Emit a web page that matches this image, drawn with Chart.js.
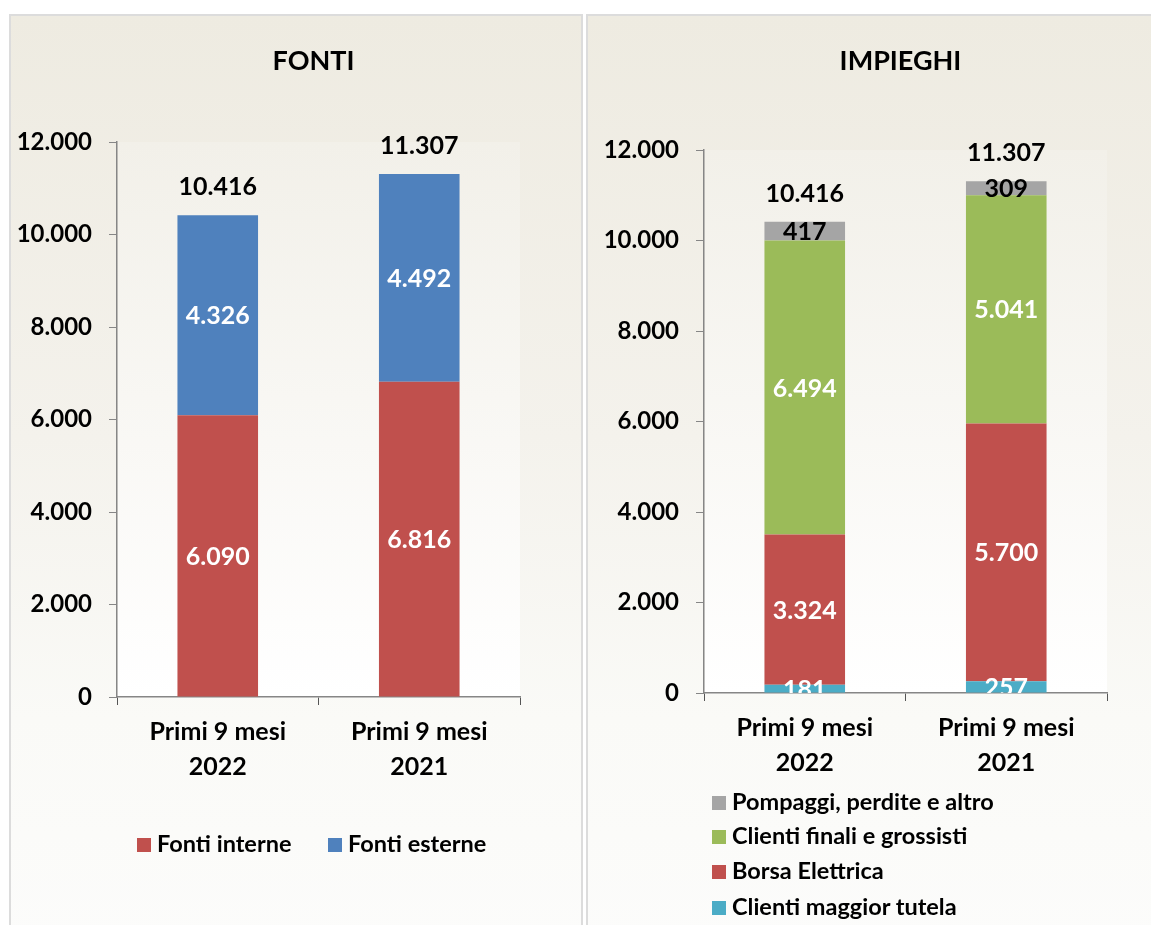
<!DOCTYPE html>
<html>
<head>
<meta charset="utf-8">
<script src="https://cdn.jsdelivr.net/npm/chart.js@4.4.0/dist/chart.umd.min.js"></script>
<style>
  body { margin: 0; background: #fff; font-family: Lato, sans-serif; }
  .panel {
    position: absolute; top: 14px; height: 940px; box-sizing: border-box;
    border: 2px solid #dcdcdc;
    background: linear-gradient(#eeebe1 0%, #f4f2ec 45%, #fafaf7 75%, #fcfcfb 100%);
  }
  .panel canvas { position: absolute; left: 0; top: 0; }
  .legend { position: absolute; font: bold 23.5px Lato, sans-serif; color: #000; }
  .legend .item { position: absolute; white-space: nowrap; line-height: 26px; }
  .legend .box { display: inline-block; width: 14px; height: 14px; margin-right: 6px; vertical-align: 0px; }
</style>
</head>
<body>
<div class="panel" id="pLeft" style="left:9px; width:574px;">
  <canvas id="fonti" width="568" height="905"></canvas>
  <div class="legend" id="legFonti"></div>
</div>
<div class="panel" id="pRight" style="left:586px; width:600px;">
  <canvas id="impieghi" width="563" height="905"></canvas>
  <div class="legend" id="legImpieghi"></div>
</div>
<script>
(function() {
    /* data */
    var categories = [['Primi 9 mesi', '2022'], ['Primi 9 mesi', '2021']];
    var fontiInterne = [6090, 6816];
    var fontiEsterne = [4326, 4492];
    var fontiTotali = [10416, 11307];
    var maggiorTutela = [181, 257];
    var borsaElettrica = [3324, 5700];
    var clientiFinali = [6494, 5041];
    var pompaggi = [417, 309];
    var impieghiTotali = [10416, 11307];
    var yMax = 12000, yStep = 2000;

    var FONT = 'Lato';

    function fmt(v) {
        return String(v).replace(/\B(?=(\d{3})+(?!\d))/g, '.');
    }

    //______plot area background + title centred on the plot
    var plotBg = {
        id: 'plotBg',
        beforeDatasetsDraw: function(chart) {
            var a = chart.chartArea, ctx = chart.ctx;
            var g = ctx.createLinearGradient(0, a.top, 0, a.bottom);
            g.addColorStop(0, '#f2f0e9');
            g.addColorStop(1, '#ffffff');
            ctx.save();
            ctx.fillStyle = g;
            ctx.fillRect(a.left + 1, a.top, a.right - a.left - 1, a.bottom - a.top - 1);
            ctx.restore();
        },
        afterDraw: function(chart) {
            var a = chart.chartArea, ctx = chart.ctx;
            ctx.save();
            ctx.font = 'bold 27px ' + FONT;
            ctx.fillStyle = '#000';
            ctx.textAlign = 'center';
            ctx.textBaseline = 'middle';
            ctx.fillText(chart.options.panelTitle, (a.left + a.right) / 2 - 5, 45);
            ctx.restore();
        }
    };

    //______value labels inside bars + totals on top
    var barLabels = {
        id: 'barLabels',
        afterDatasetsDraw: function(chart) {
            var ctx = chart.ctx, a = chart.chartArea;
            var sets = chart.data.datasets;
            ctx.save();
            ctx.beginPath();
            ctx.rect(a.left, a.top - 80, a.right - a.left, a.bottom - a.top + 80);
            ctx.clip();
            ctx.font = 'bold 25px ' + FONT;
            ctx.textAlign = 'center';
            ctx.textBaseline = 'middle';
            sets.forEach(function(ds, i) {
                chart.getDatasetMeta(i).data.forEach(function(bar, j) {
                    var p = bar.getProps(['x', 'y', 'base'], true);
                    ctx.fillStyle = ds.labelColor;
                    ctx.fillText(fmt(ds.data[j]), p.x, (p.y + p.base) / 2 + 1);
                });
            });
            var top = chart.getDatasetMeta(sets.length - 1);
            top.data.forEach(function(bar, j) {
                var p = bar.getProps(['x', 'y'], true);
                ctx.fillStyle = '#000';
                ctx.fillText(fmt(chart.options.totals[j]), p.x, p.y - 28);
            });
            ctx.restore();
        }
    };

    function makeChart(id, title, datasets, totals, lay) {
        return new Chart(document.getElementById(id), {
            type: 'bar',
            data: { labels: categories, datasets: datasets },
            plugins: [plotBg, barLabels],
            options: {
                responsive: false,
                animation: false,
                panelTitle: title,
                totals: totals,
                layout: { padding: { left: 0, right: lay.right, top: lay.top, bottom: lay.bottom } },
                datasets: { bar: { categoryPercentage: 1, barPercentage: 0.4 } },
                plugins: {
                    legend: { display: false },
                    tooltip: { enabled: false },
                    title: { display: false }
                },
                scales: {
                    x: {
                        stacked: true,
                        grid: { display: true, drawOnChartArea: false, tickLength: 8, color: '#555', offset: true },
                        border: { display: true, color: '#868686', width: 1.5 },
                        ticks: { color: '#000', padding: 9, font: { family: FONT, size: 25, weight: 'bold', lineHeight: 1.4 } },
                        afterFit: function(s) { s.height = 100; }
                    },
                    y: {
                        stacked: true, min: 0, max: yMax,
                        grid: { display: true, drawOnChartArea: false, tickLength: 8, color: '#868686' },
                        border: { display: true, color: '#868686', width: 1.5 },
                        ticks: {
                            stepSize: yStep, color: '#000', padding: 17,
                            font: { family: FONT, size: 24, weight: 'bold' },
                            callback: function(v) { return fmt(v); }
                        },
                        afterFit: function(s) { s.width = lay.yWidth; }
                    }
                }
            }
        });
    }

    var fonti = makeChart('fonti', 'FONTI', [
        { label: 'Fonti interne', data: fontiInterne, backgroundColor: '#c0504d', labelColor: '#fff' },
        { label: 'Fonti esterne', data: fontiEsterne, backgroundColor: '#4f81bd', labelColor: '#fff' }
    ], fontiTotali, { right: 59, bottom: 124, top: 126, yWidth: 106 });

    var impieghi = makeChart('impieghi', 'IMPIEGHI', [
        { label: 'Clienti maggior tutela', data: maggiorTutela, backgroundColor: '#4bacc6', labelColor: '#fff' },
        { label: 'Borsa Elettrica', data: borsaElettrica, backgroundColor: '#c0504d', labelColor: '#fff' },
        { label: 'Clienti finali e grossisti', data: clientiFinali, backgroundColor: '#9bbb59', labelColor: '#fff' },
        { label: 'Pompaggi, perdite e altro', data: pompaggi, backgroundColor: '#a5a5a5', labelColor: '#000' }
    ], impieghiTotali, { right: 44, bottom: 128, top: 134, yWidth: 116 });

    //______html legends built from the chart datasets
    function legendItem(ds) {
        return '<span class="box" style="background:' + ds.backgroundColor + '"></span>' + ds.label;
    }
    var lf = document.getElementById('legFonti');
    var lfPos = [126, 317];
    fonti.data.datasets.forEach(function(ds, i) {
        var d = document.createElement('div');
        d.className = 'item';
        d.style.left = lfPos[i] + 'px';
        d.style.top = (843 - 16 - 13) + 'px';
        d.innerHTML = legendItem(ds);
        lf.appendChild(d);
    });
    var li = document.getElementById('legImpieghi');
    var rows = [801, 835, 870, 906];
    impieghi.data.datasets.slice().reverse().forEach(function(ds, i) {
        var d = document.createElement('div');
        d.className = 'item';
        d.style.left = (712 - 588) + 'px';
        d.style.top = (rows[i] - 16 - 13) + 'px';
        d.innerHTML = legendItem(ds);
        li.appendChild(d);
    });
})();
</script>
</body>
</html>
